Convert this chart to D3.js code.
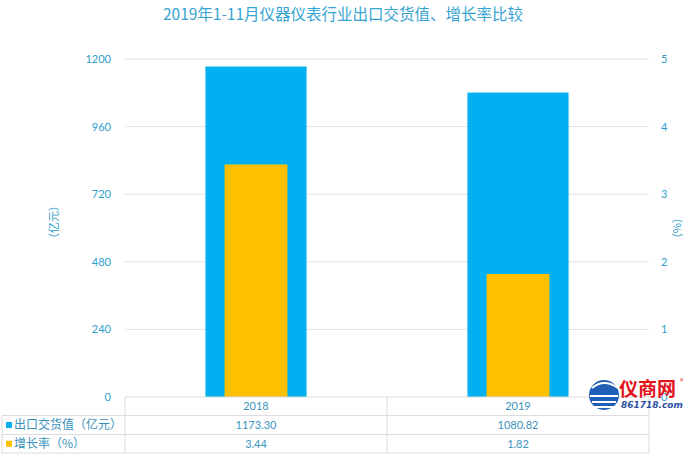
<!DOCTYPE html>
<html><head><meta charset="utf-8">
<script src="https://cdn.jsdelivr.net/npm/d3@7/dist/d3.min.js"></script>
<style>body{margin:0;background:#fff;}svg{display:block;font-family:"Microsoft YaHei","Noto Sans CJK SC",sans-serif;}</style>
</head><body>
<svg id="c" width="687" height="456"></svg>
<script>
const categories = ["2018", "2019"];
const exportValues = [1173.30, 1080.82];
const growthRates = [3.44, 1.82];
const exportLabels = ["1173.30", "1080.82"];
const growthLabels = ["3.44", "1.82"];
const leftTicks = [0, 240, 480, 720, 960, 1200];
const rightTicks = [0, 1, 2, 3, 4, 5];
const seriesNames = ["出口交货值（亿元）", "增长率（%）"];
const colors = ["#00B0F0", "#FFC000"];

const svg = d3.select("#c");
const L = 125, R = 649, T = 59, B = 397;
const x = d3.scaleBand().domain(categories).range([L, R]);
const yL = d3.scaleLinear().domain([0, 1200]).range([B, T]);
const yR = d3.scaleLinear().domain([0, 5]).range([B, T]);
const textColor = "#2fa0cc";

svg.append("text").attr("x", 343).attr("y", 20).attr("text-anchor", "middle")
  .attr("font-size", 15.5).attr("fill", "#35a4d2").text("2019年1-11月仪器仪表行业出口交货值、增长率比较");

// gridlines
svg.append("g").selectAll("line").data(leftTicks.filter(d => d > 0)).join("line")
  .attr("x1", L).attr("x2", R).attr("y1", d => yL(d)).attr("y2", d => yL(d))
  .attr("stroke", "#e3e3e3").attr("stroke-width", 1);

// left axis
const gl = svg.append("g").attr("transform", `translate(${L},0)`)
  .call(d3.axisLeft(yL).tickValues(leftTicks).tickFormat(d3.format("d")).tickSize(0).tickPadding(14));
gl.select(".domain").remove();
gl.selectAll("text").attr("fill", textColor).attr("font-size", 11).attr("font-family", "Lato, sans-serif");

const gr = svg.append("g").attr("transform", `translate(${R},0)`)
  .call(d3.axisRight(yR).tickValues(rightTicks).tickFormat(d3.format("d")).tickSize(0).tickPadding(12));
gr.select(".domain").remove();
gr.selectAll("text").attr("fill", textColor).attr("font-size", 11).attr("font-family", "Lato, sans-serif");

svg.append("text").attr("transform", "translate(58,222) rotate(-90)").attr("text-anchor", "middle")
  .attr("font-size", 11).attr("fill", textColor).text("（亿元）");
svg.append("text").attr("transform", "translate(673,228) rotate(90)").attr("text-anchor", "middle")
  .attr("font-size", 11).attr("fill", textColor).text("（%）");

// bars
const bw = x.bandwidth() * 0.386;
const ow = x.bandwidth() * 0.24;
svg.append("g").selectAll("rect").data(categories).join("rect")
  .attr("x", d => x(d) + x.bandwidth() / 2 - bw / 2).attr("width", bw)
  .attr("y", (d, i) => yL(exportValues[i])).attr("height", (d, i) => B - yL(exportValues[i]))
  .attr("fill", colors[0]);
svg.append("g").selectAll("rect").data(categories).join("rect")
  .attr("x", d => x(d) + x.bandwidth() / 2 - ow / 2).attr("width", ow)
  .attr("y", (d, i) => yR(growthRates[i])).attr("height", (d, i) => B - yR(growthRates[i]))
  .attr("fill", colors[1]);

// data table
const rows = [397, 415.5, 434.5, 453];
const tbl = svg.append("g").attr("stroke", "#dcdcdc").attr("stroke-width", 1).attr("fill", "none");
tbl.append("line").attr("x1", L).attr("x2", R).attr("y1", rows[0]).attr("y2", rows[0]);
[1, 2, 3].forEach(i => tbl.append("line").attr("x1", 2).attr("x2", R).attr("y1", rows[i]).attr("y2", rows[i]));
tbl.append("line").attr("x1", 2).attr("x2", 2).attr("y1", rows[1]).attr("y2", rows[3]);
[L, x(categories[1]), R].forEach(xx => tbl.append("line").attr("x1", xx).attr("x2", xx).attr("y1", rows[0]).attr("y2", rows[3]));

const tc = "#3b93bd";
svg.append("g").selectAll("text").data(categories).join("text")
  .attr("x", d => x(d) + x.bandwidth() / 2).attr("y", (rows[0] + rows[1]) / 2 + 4)
  .attr("text-anchor", "middle").attr("font-size", 11).attr("fill", tc).attr("font-family", "Lato, sans-serif").text(d => d);
svg.append("g").selectAll("text").data(exportLabels).join("text")
  .attr("x", (d, i) => x(categories[i]) + x.bandwidth() / 2).attr("y", (rows[1] + rows[2]) / 2 + 4)
  .attr("text-anchor", "middle").attr("font-size", 11).attr("fill", tc).attr("font-family", "Lato, sans-serif").text(d => d);
svg.append("g").selectAll("text").data(growthLabels).join("text")
  .attr("x", (d, i) => x(categories[i]) + x.bandwidth() / 2).attr("y", (rows[2] + rows[3]) / 2 + 4)
  .attr("text-anchor", "middle").attr("font-size", 11).attr("fill", tc).attr("font-family", "Lato, sans-serif").text(d => d);

seriesNames.forEach((n, i) => {
  const cy = (rows[i + 1] + rows[i + 2]) / 2;
  svg.append("rect").attr("x", 6).attr("y", cy - 3).attr("width", 6).attr("height", 6).attr("fill", colors[i]);
  svg.append("text").attr("x", 14).attr("y", cy + 4).attr("font-size", 12).attr("fill", tc).text(n);
});

// watermark logo
const lg = svg.append("g");
lg.append("circle").attr("cx", 604).attr("cy", 395).attr("r", 15).attr("fill", "#1f5fb8");
lg.append("path").attr("d", "M592,388 q12,-10 26,0 M590,396 h28 M592,402 h24 M594,407 h20").attr("stroke", "#fff").attr("stroke-width", 2).attr("fill", "none");
lg.append("text").attr("x", 619).attr("y", 396).attr("font-size", 19).attr("font-weight", "bold").attr("fill", "#e3141b").text("仪商网");
lg.append("text").attr("x", 621).attr("y", 408).attr("font-size", 9).attr("font-style", "italic").attr("font-weight", "bold").attr("fill", "#2c4f9e").attr("font-family", "DejaVu Sans, sans-serif").text("861718.com");
lg.append("text").attr("x", 680).attr("y", 384).attr("font-size", 7).attr("fill", "#e3141b").text("®");
</script>
</body></html>
